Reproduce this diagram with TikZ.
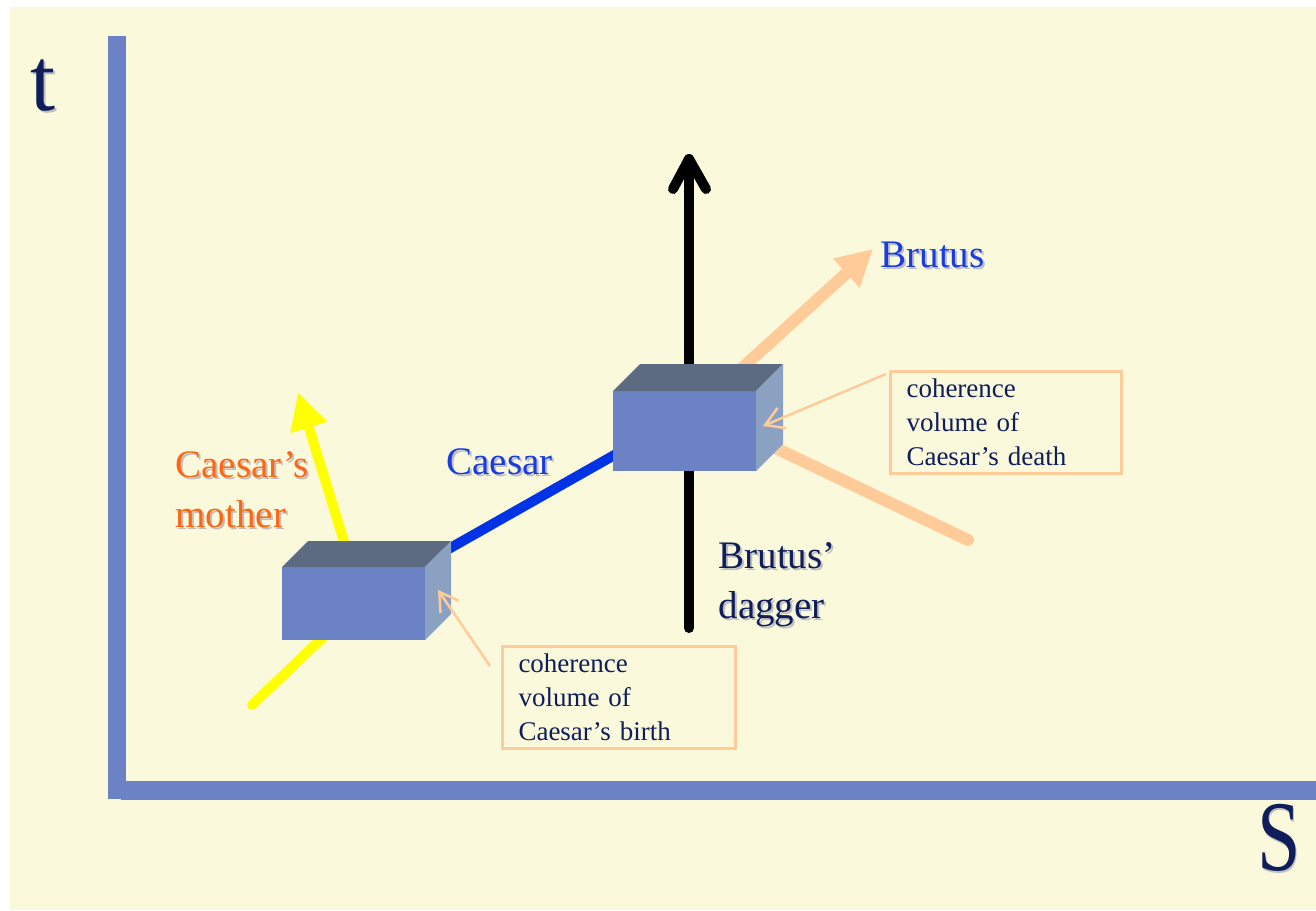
\documentclass[tikz,border=0pt]{standalone}
\usepackage{fontspec}
\setmainfont{Liberation Serif}
\usetikzlibrary{arrows.meta}
\definecolor{bg}{RGB}{250,249,220}
\definecolor{axisc}{RGB}{107,131,196}
\definecolor{frontc}{RGB}{107,131,196}
\definecolor{topc}{RGB}{92,107,130}
\definecolor{sidec}{RGB}{138,161,194}
\definecolor{navy}{RGB}{15,30,90}
\definecolor{peach}{RGB}{255,204,153}
\definecolor{ylw}{RGB}{255,255,0}
\definecolor{cblue}{RGB}{0,51,230}
\definecolor{lblue}{RGB}{25,60,225}
\definecolor{orng}{RGB}{255,102,20}
\definecolor{shad}{RGB}{190,190,190}
\tikzset{
  frontface/.style={fill=frontc, inner sep=0pt, outer sep=0pt},
  yline/.style={draw=ylw, line width=10pt, line cap=round, line join=round},
  pline/.style={draw=peach, line width=12pt, line cap=round, line join=round},
  blkline/.style={draw=black, line width=10pt, line cap=round, line join=round},
  thinarrow/.style={draw=peach, line width=2.5pt, -{Straight Barb[length=18pt,width=22pt]}},
  notebox/.style={draw=peach, line width=3pt, fill=bg, text=navy, align=left,
    font=\fontsize{27}{34}\selectfont, inner xsep=16pt, inner ysep=4pt,
    minimum height=102pt},
  biglabel/.style={anchor=base west, align=left, font=\fontsize{39}{50}\selectfont},
}
\newcommand\shlabel[5]{% name, position, colour, extra options, text
  \node[biglabel, text=shad, xshift=2pt, yshift=-2pt, #4] (#1shadow) at #2 {#5};
  \node[biglabel, text=#3, #4] (#1) at #2 {#5};
}
\begin{document}
\begin{tikzpicture}[x=1pt,y=-1pt]
\useasboundingbox (0,0) rectangle (1316,910);
\fill[white] (0,0) rectangle (1316,910);
\fill[bg] (10,7) rectangle (1316,910);
% axes
\fill[axisc] (108,36) rectangle (126,799);
\fill[axisc] (121,781) rectangle (1316,800);
% axis labels
\node[text=shad, font=\fontsize{90}{90}\selectfont, xshift=2pt, yshift=-2pt] (tshadow) at (43,86) {t};
\node[text=navy, font=\fontsize{90}{90}\selectfont] (tlab) at (43,86) {t};
\node[text=shad, font=\fontsize{100}{100}\selectfont, xscale=0.78, xshift=2pt, yshift=-2pt] (sshadow) at (1279,838) {S};
\node[text=navy, font=\fontsize{100}{100}\selectfont, xscale=0.78] (slab) at (1279,838) {S};

% coordinates of lines
\coordinate (ybot) at (252,705);
\coordinate (ybend) at (362,600);
\coordinate (ytip) at (298,392);
\coordinate (pbot) at (968,540);
\coordinate (pbend) at (696,410);
\coordinate (ptip) at (873,249);
\coordinate (dbot) at (689,628);
\coordinate (dtip) at (689,159);
\coordinate (darmL) at (673,189);
\coordinate (darmR) at (706,189);
\coordinate (cstart) at (445,551);
\coordinate (cend) at (625,449);

% world lines
\draw[yline, -{Triangle[length=37pt,width=36pt]}] (ybot) -- (ybend) -- (ytip);
\draw[pline, -{Triangle[length=36pt,width=37pt]}] (pbot) -- (pbend) -- (ptip);
\draw[blkline] (dbot) -- (dtip);
\draw[blkline] (darmL) -- (dtip) -- (darmR);
\draw[draw=cblue, line width=10pt] (cstart) -- (cend);

% box 1
\node[frontface, minimum width=143pt, minimum height=73pt] (box1) at (353.5,603.5) {};
\fill[topc] (box1.north west) -- ++(26,-26) -- ([shift={(26,-26)}]box1.north east) -- (box1.north east) -- cycle;
\fill[sidec] (box1.north east) -- ++(26,-26) -- ([shift={(26,-26)}]box1.south east) -- (box1.south east) -- cycle;
% box 2
\node[frontface, minimum width=143pt, minimum height=80pt] (box2) at (684.5,431) {};
\fill[topc] (box2.north west) -- ++(27,-27) -- ([shift={(27,-27)}]box2.north east) -- (box2.north east) -- cycle;
\fill[sidec] (box2.north east) -- ++(27,-27) -- ([shift={(27,-27)}]box2.south east) -- (box2.south east) -- cycle;

% note boxes
\node[notebox, anchor=north west, minimum width=233pt, text width=201pt] (birthnote) at (501,645)
  {coherence\\volume of\\Caesar’s birth};
\node[notebox, anchor=north west, minimum width=231pt, text width=199pt] (deathnote) at (889,370)
  {coherence\\volume of\\Caesar’s death};
\coordinate (btarget) at (438,590);
\coordinate (dtarget) at (763,426);
\coordinate (bstart) at ([shift={(-11,21)}]birthnote.north west);
\coordinate (dstart) at ([shift={(-3,4)}]deathnote.north west);
\draw[thinarrow] (bstart) -- (btarget);
\draw[thinarrow] (dstart) -- (dtarget);

% labels
\shlabel{brutus}{(877,267)}{lblue}{}{Brutus}
\shlabel{caesar}{(443,474)}{lblue}{}{Caesar}
\shlabel{mother}{(172,527)}{orng}{}{Caesar’s\\mother}
\shlabel{dagger}{(715,618)}{navy}{}{Brutus’\\dagger}
\end{tikzpicture}
\end{document}
